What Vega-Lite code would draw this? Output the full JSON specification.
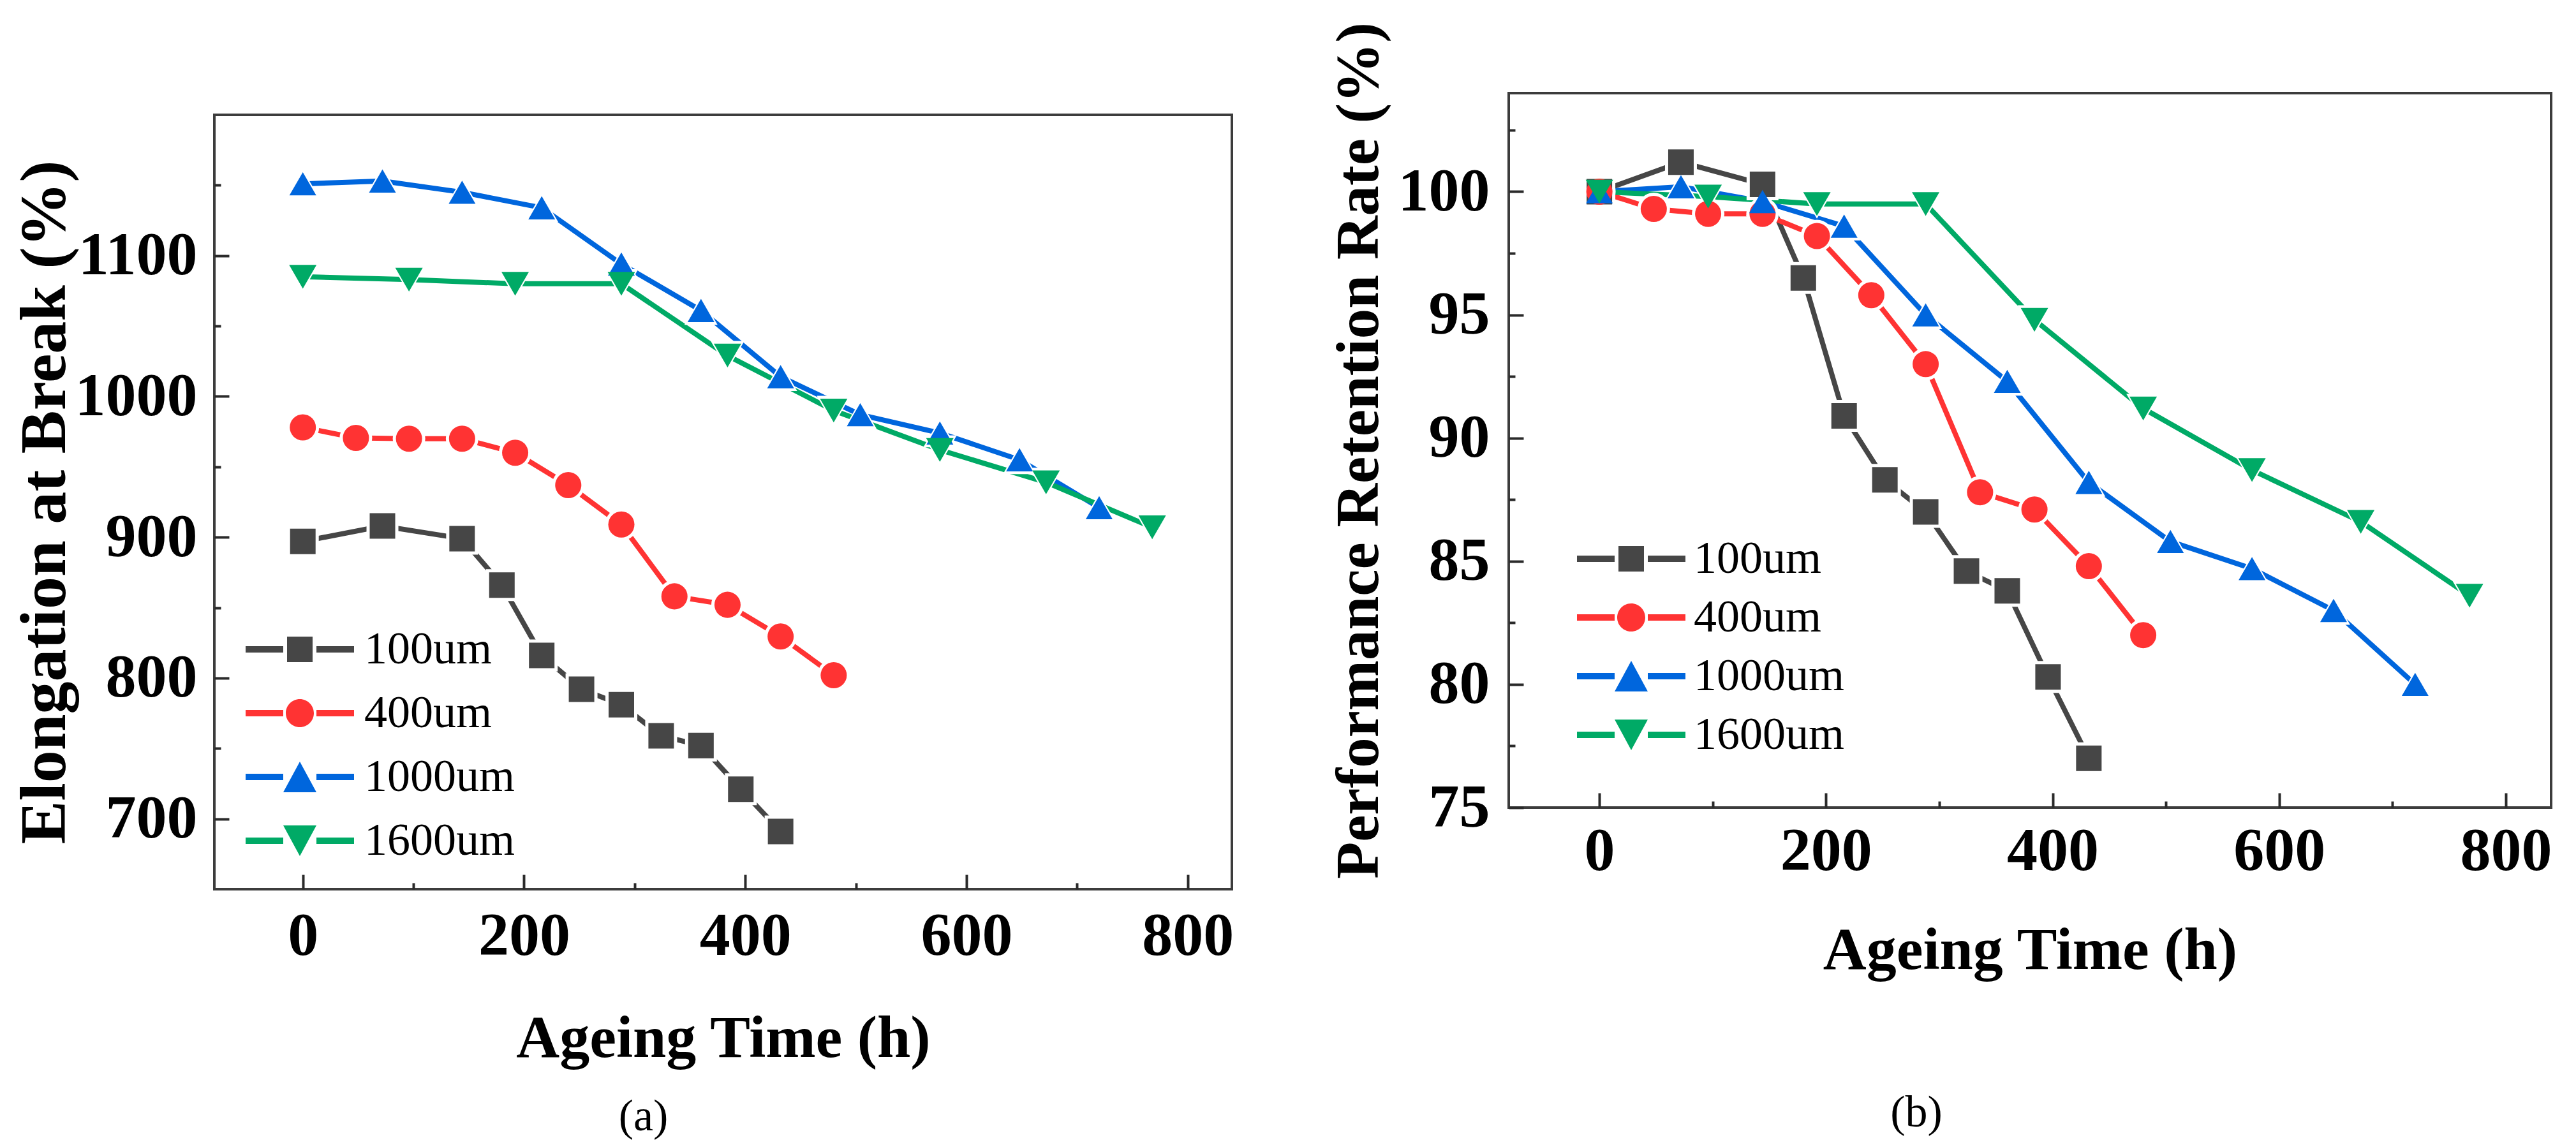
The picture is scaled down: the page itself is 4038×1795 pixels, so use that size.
{
  "$schema": "https://vega.github.io/schema/vega-lite/v6.json",
  "padding": {"left": 16, "top": 32, "right": 30, "bottom": 10},
  "datasets": {
    "a": [
      {"s": "100um", "t": 0, "v": 897}, {"s": "100um", "t": 72, "v": 908}, {"s": "100um", "t": 144, "v": 899},
      {"s": "100um", "t": 180, "v": 866}, {"s": "100um", "t": 216, "v": 816}, {"s": "100um", "t": 252, "v": 792},
      {"s": "100um", "t": 288, "v": 781}, {"s": "100um", "t": 324, "v": 759}, {"s": "100um", "t": 360, "v": 752},
      {"s": "100um", "t": 396, "v": 721}, {"s": "100um", "t": 432, "v": 691},
      {"s": "400um", "t": 0, "v": 978}, {"s": "400um", "t": 48, "v": 970.5}, {"s": "400um", "t": 96, "v": 970},
      {"s": "400um", "t": 144, "v": 970}, {"s": "400um", "t": 192, "v": 960}, {"s": "400um", "t": 240, "v": 937},
      {"s": "400um", "t": 288, "v": 909}, {"s": "400um", "t": 336, "v": 858}, {"s": "400um", "t": 384, "v": 852},
      {"s": "400um", "t": 432, "v": 829.5}, {"s": "400um", "t": 480, "v": 802},
      {"s": "1000um", "t": 0, "v": 1151}, {"s": "1000um", "t": 72, "v": 1153}, {"s": "1000um", "t": 144, "v": 1145},
      {"s": "1000um", "t": 216, "v": 1134}, {"s": "1000um", "t": 288, "v": 1094}, {"s": "1000um", "t": 360, "v": 1061},
      {"s": "1000um", "t": 432, "v": 1014}, {"s": "1000um", "t": 504, "v": 987}, {"s": "1000um", "t": 576, "v": 974},
      {"s": "1000um", "t": 648, "v": 955}, {"s": "1000um", "t": 720, "v": 921},
      {"s": "1600um", "t": 0, "v": 1085}, {"s": "1600um", "t": 96, "v": 1083}, {"s": "1600um", "t": 192, "v": 1080},
      {"s": "1600um", "t": 288, "v": 1080}, {"s": "1600um", "t": 384, "v": 1029}, {"s": "1600um", "t": 480, "v": 990},
      {"s": "1600um", "t": 576, "v": 962}, {"s": "1600um", "t": 672, "v": 939}, {"s": "1600um", "t": 768, "v": 907}
    ],
    "b": [
      {"s": "100um", "t": 0, "v": 100}, {"s": "100um", "t": 72, "v": 101.2}, {"s": "100um", "t": 144, "v": 100.3},
      {"s": "100um", "t": 180, "v": 96.5}, {"s": "100um", "t": 216, "v": 90.9}, {"s": "100um", "t": 252, "v": 88.3},
      {"s": "100um", "t": 288, "v": 87.0}, {"s": "100um", "t": 324, "v": 84.6}, {"s": "100um", "t": 360, "v": 83.8},
      {"s": "100um", "t": 396, "v": 80.3}, {"s": "100um", "t": 432, "v": 77.0},
      {"s": "400um", "t": 0, "v": 100}, {"s": "400um", "t": 48, "v": 99.3}, {"s": "400um", "t": 96, "v": 99.1},
      {"s": "400um", "t": 144, "v": 99.1}, {"s": "400um", "t": 192, "v": 98.2}, {"s": "400um", "t": 240, "v": 95.8},
      {"s": "400um", "t": 288, "v": 93.0}, {"s": "400um", "t": 336, "v": 87.8}, {"s": "400um", "t": 384, "v": 87.1},
      {"s": "400um", "t": 432, "v": 84.8}, {"s": "400um", "t": 480, "v": 82.0},
      {"s": "1000um", "t": 0, "v": 100}, {"s": "1000um", "t": 72, "v": 100.2}, {"s": "1000um", "t": 144, "v": 99.6},
      {"s": "1000um", "t": 216, "v": 98.6}, {"s": "1000um", "t": 288, "v": 95.0}, {"s": "1000um", "t": 360, "v": 92.3},
      {"s": "1000um", "t": 432, "v": 88.2}, {"s": "1000um", "t": 504, "v": 85.8}, {"s": "1000um", "t": 576, "v": 84.7},
      {"s": "1000um", "t": 648, "v": 83.0}, {"s": "1000um", "t": 720, "v": 80.0},
      {"s": "1600um", "t": 0, "v": 100}, {"s": "1600um", "t": 96, "v": 99.8}, {"s": "1600um", "t": 192, "v": 99.5},
      {"s": "1600um", "t": 288, "v": 99.5}, {"s": "1600um", "t": 384, "v": 94.8}, {"s": "1600um", "t": 480, "v": 91.2},
      {"s": "1600um", "t": 576, "v": 88.7}, {"s": "1600um", "t": 672, "v": 86.6}, {"s": "1600um", "t": 768, "v": 83.6}
    ]
  },
  "hconcat": [
    {
      "spacing": 0,
      "vconcat": [
        {
          "width": 1595,
          "height": 32,
          "data": {"values": [{"k": 1}]},
          "mark": {"type": "point", "opacity": 0},
          "view": {"fill": "white", "stroke": null}
        },
        {
          "width": 1595,
          "height": 1214,
          "data": {"name": "a"},
          "title": {"text": "(a)", "orient": "bottom", "anchor": "middle", "dx": -125, "offset": 42, "fontSize": 70, "fontWeight": "normal", "font": "Liberation Serif", "color": "black"},
          "encoding": {
            "x": {
              "field": "t", "type": "quantitative",
              "scale": {"domain": [-80, 840], "nice": false, "zero": false},
              "axis": {
                "title": "Ageing Time (h)", "format": "d",
                "values": [0, 100, 200, 300, 400, 500, 600, 700, 800],
                "labelExpr": "datum.value % 200 === 0 ? datum.label : ''",
                "tickDash": {"condition": {"test": "datum.value % 200 !== 0", "value": [10, 60]}, "value": [60, 0]},
                "labelPadding": 49, "titlePadding": 67
              }
            },
            "y": {
              "field": "v", "type": "quantitative",
              "scale": {"domain": [650, 1200], "nice": false, "zero": false},
              "axis": {
                "title": "Elongation at Break (%)", "format": "d", "titleFontSize": 102,
                "values": [700, 750, 800, 850, 900, 950, 1000, 1050, 1100, 1150],
                "labelExpr": "datum.value % 100 === 0 ? datum.label : ''",
                "tickDash": {"condition": {"test": "datum.value % 100 !== 0", "value": [10, 60]}, "value": [60, 0]},
                "labelPadding": 50, "titlePadding": 14
              }
            },
            "color": {
              "field": "s", "type": "nominal",
              "scale": {"domain": ["100um", "400um", "1000um", "1600um"], "range": ["#464646", "#FF3333", "#0066DD", "#00AA66"]},
              "legend": null
            }
          },
          "layer": [
            {"mark": {"type": "line", "strokeWidth": 8}},
            {
              "mark": {"type": "point", "filled": true, "opacity": 1, "strokeWidth": 0},
              "encoding": {
                "color": {"value": "white"},
                "shape": {"field": "s", "type": "nominal", "scale": {"domain": ["100um", "400um", "1000um", "1600um"], "range": ["square", "circle", "triangle-up", "triangle-down"]}, "legend": null},
                "size": {"field": "s", "type": "ordinal", "scale": {"domain": ["100um", "400um", "1000um", "1600um"], "range": [2500, 2800, 4300, 4300]}, "legend": null}
              }
            },
            {
              "mark": {"type": "point", "filled": true, "opacity": 1, "strokeWidth": 0},
              "encoding": {
                "shape": {"field": "s", "type": "nominal", "scale": {"domain": ["100um", "400um", "1000um", "1600um"], "range": ["square", "circle", "triangle-up", "triangle-down"]}, "legend": null},
                "size": {"field": "s", "type": "ordinal", "scale": {"domain": ["100um", "400um", "1000um", "1600um"], "range": [1600, 1850, 2800, 2800]}, "legend": null}
              }
            },
            {
              "data": {"values": []},
              "mark": {"type": "point", "filled": true, "opacity": 1, "strokeWidth": 0},
              "encoding": {
                "color": {
                  "field": "s", "type": "nominal",
                  "scale": {"domain": ["100um", "400um", "1000um", "1600um"], "range": ["#464646", "#FF3333", "#0066DD", "#00AA66"]},
                  "legend": {"title": null, "orient": "none", "legendX": 98, "legendY": 802, "padding": 0, "symbolSize": 1600, "symbolStrokeWidth": 0, "symbolOpacity": 1, "labelFont": "Liberation Serif", "labelFontSize": 72, "labelFontWeight": "normal", "labelColor": "black", "labelOffset": 65, "rowPadding": 28, "labelLimit": 0}
                },
                "shape": {
                  "field": "s", "type": "nominal",
                  "scale": {"domain": ["100um", "400um", "1000um", "1600um"], "range": [
                    "M-4.25,-0.25H-1.3V0.25H-4.25Z M1.3,-0.25H4.25V0.25H1.3Z M-1,-1H1V1H-1Z",
                    "M-4.25,-0.25H-1.3V0.25H-4.25Z M1.3,-0.25H4.25V0.25H1.3Z M-1.1,0A1.1,1.1,0,1,0,1.1,0A1.1,1.1,0,1,0,-1.1,0Z",
                    "M-4.25,-0.25H-1.3V0.25H-4.25Z M1.3,-0.25H4.25V0.25H1.3Z M0,-1.2L1.3,1.2L-1.3,1.2Z",
                    "M-4.25,-0.25H-1.3V0.25H-4.25Z M1.3,-0.25H4.25V0.25H1.3Z M0,1.2L1.3,-1.2L-1.3,-1.2Z"
                  ]},
                  "legend": {"title": null, "orient": "none", "legendX": 98, "legendY": 802, "padding": 0, "symbolSize": 1600, "symbolStrokeWidth": 0, "symbolOpacity": 1, "labelFont": "Liberation Serif", "labelFontSize": 72, "labelFontWeight": "normal", "labelColor": "black", "labelOffset": 65, "rowPadding": 28, "labelLimit": 0}
                }
              }
            }
          ],
          "resolve": {"scale": {"color": "independent", "shape": "independent", "size": "independent"}}
        }
      ]
    },
    {
      "width": 1634,
      "height": 1120,
      "data": {"name": "b"},
      "title": {"text": "(b)", "orient": "bottom", "anchor": "middle", "dx": -178, "offset": 174, "fontSize": 70, "fontWeight": "normal", "font": "Liberation Serif", "color": "black"},
      "encoding": {
        "x": {
          "field": "t", "type": "quantitative",
          "scale": {"domain": [-80, 840], "nice": false, "zero": false},
          "axis": {
            "title": "Ageing Time (h)", "format": "d",
            "values": [0, 100, 200, 300, 400, 500, 600, 700, 800],
            "labelExpr": "datum.value % 200 === 0 ? datum.label : ''",
            "tickDash": {"condition": {"test": "datum.value % 200 !== 0", "value": [10, 60]}, "value": [60, 0]},
            "labelPadding": 44, "titlePadding": 62
          }
        },
        "y": {
          "field": "v", "type": "quantitative",
          "scale": {"domain": [75, 104], "nice": false, "zero": false},
          "axis": {
            "title": "Performance Retention Rate (%)", "format": "d", "titleFontSize": 95,
            "values": [75, 77.5, 80, 82.5, 85, 87.5, 90, 92.5, 95, 97.5, 100, 102.5],
            "labelExpr": "datum.value % 5 === 0 ? datum.label : ''",
            "tickDash": {"condition": {"test": "datum.value % 5 !== 0", "value": [10, 60]}, "value": [60, 0]},
            "labelPadding": 53, "titlePadding": 12
          }
        },
        "color": {
          "field": "s", "type": "nominal",
          "scale": {"domain": ["100um", "400um", "1000um", "1600um"], "range": ["#464646", "#FF3333", "#0066DD", "#00AA66"]},
          "legend": null
        }
      },
      "layer": [
        {"mark": {"type": "line", "strokeWidth": 8}},
        {
          "mark": {"type": "point", "filled": true, "opacity": 1, "strokeWidth": 0},
          "encoding": {
            "color": {"value": "white"},
            "shape": {"field": "s", "type": "nominal", "scale": {"domain": ["100um", "400um", "1000um", "1600um"], "range": ["square", "circle", "triangle-up", "triangle-down"]}, "legend": null},
            "size": {"field": "s", "type": "ordinal", "scale": {"domain": ["100um", "400um", "1000um", "1600um"], "range": [2500, 2800, 4300, 4300]}, "legend": null}
          }
        },
        {
          "mark": {"type": "point", "filled": true, "opacity": 1, "strokeWidth": 0},
          "encoding": {
            "shape": {"field": "s", "type": "nominal", "scale": {"domain": ["100um", "400um", "1000um", "1600um"], "range": ["square", "circle", "triangle-up", "triangle-down"]}, "legend": null},
            "size": {"field": "s", "type": "ordinal", "scale": {"domain": ["100um", "400um", "1000um", "1600um"], "range": [1600, 1850, 2800, 2800]}, "legend": null}
          }
        },
        {
          "data": {"values": []},
          "mark": {"type": "point", "filled": true, "opacity": 1, "strokeWidth": 0},
          "encoding": {
            "color": {
              "field": "s", "type": "nominal",
              "scale": {"domain": ["100um", "400um", "1000um", "1600um"], "range": ["#464646", "#FF3333", "#0066DD", "#00AA66"]},
              "legend": {"title": null, "orient": "none", "legendX": 156, "legendY": 694, "padding": 0, "symbolSize": 1600, "symbolStrokeWidth": 0, "symbolOpacity": 1, "labelFont": "Liberation Serif", "labelFontSize": 72, "labelFontWeight": "normal", "labelColor": "black", "labelOffset": 62, "rowPadding": 20, "labelLimit": 0}
            },
            "shape": {
              "field": "s", "type": "nominal",
              "scale": {"domain": ["100um", "400um", "1000um", "1600um"], "range": [
                "M-4.25,-0.25H-1.3V0.25H-4.25Z M1.3,-0.25H4.25V0.25H1.3Z M-1,-1H1V1H-1Z",
                "M-4.25,-0.25H-1.3V0.25H-4.25Z M1.3,-0.25H4.25V0.25H1.3Z M-1.1,0A1.1,1.1,0,1,0,1.1,0A1.1,1.1,0,1,0,-1.1,0Z",
                "M-4.25,-0.25H-1.3V0.25H-4.25Z M1.3,-0.25H4.25V0.25H1.3Z M0,-1.2L1.3,1.2L-1.3,1.2Z",
                "M-4.25,-0.25H-1.3V0.25H-4.25Z M1.3,-0.25H4.25V0.25H1.3Z M0,1.2L1.3,-1.2L-1.3,-1.2Z"
              ]},
              "legend": {"title": null, "orient": "none", "legendX": 156, "legendY": 694, "padding": 0, "symbolSize": 1600, "symbolStrokeWidth": 0, "symbolOpacity": 1, "labelFont": "Liberation Serif", "labelFontSize": 72, "labelFontWeight": "normal", "labelColor": "black", "labelOffset": 62, "rowPadding": 20, "labelLimit": 0}
            }
          }
        }
      ],
      "resolve": {"scale": {"color": "independent", "shape": "independent", "size": "independent"}}
    }
  ],
  "spacing": 144,
  "config": {
    "font": "Liberation Serif",
    "view": {"stroke": "#3c3c3c", "strokeWidth": 4},
    "axis": {
      "domain": false, "grid": false,
      "tickSize": -23, "tickWidth": 4, "tickColor": "#2a2a2a",
      "labelFont": "Liberation Serif", "labelFontWeight": "bold", "labelFontSize": 96, "labelColor": "black",
      "labelFlush": false, "labelOverlap": false, "labelLimit": 0,
      "titleFont": "Liberation Serif", "titleFontWeight": "bold", "titleFontSize": 94, "titleColor": "black"
    }
  }
}
